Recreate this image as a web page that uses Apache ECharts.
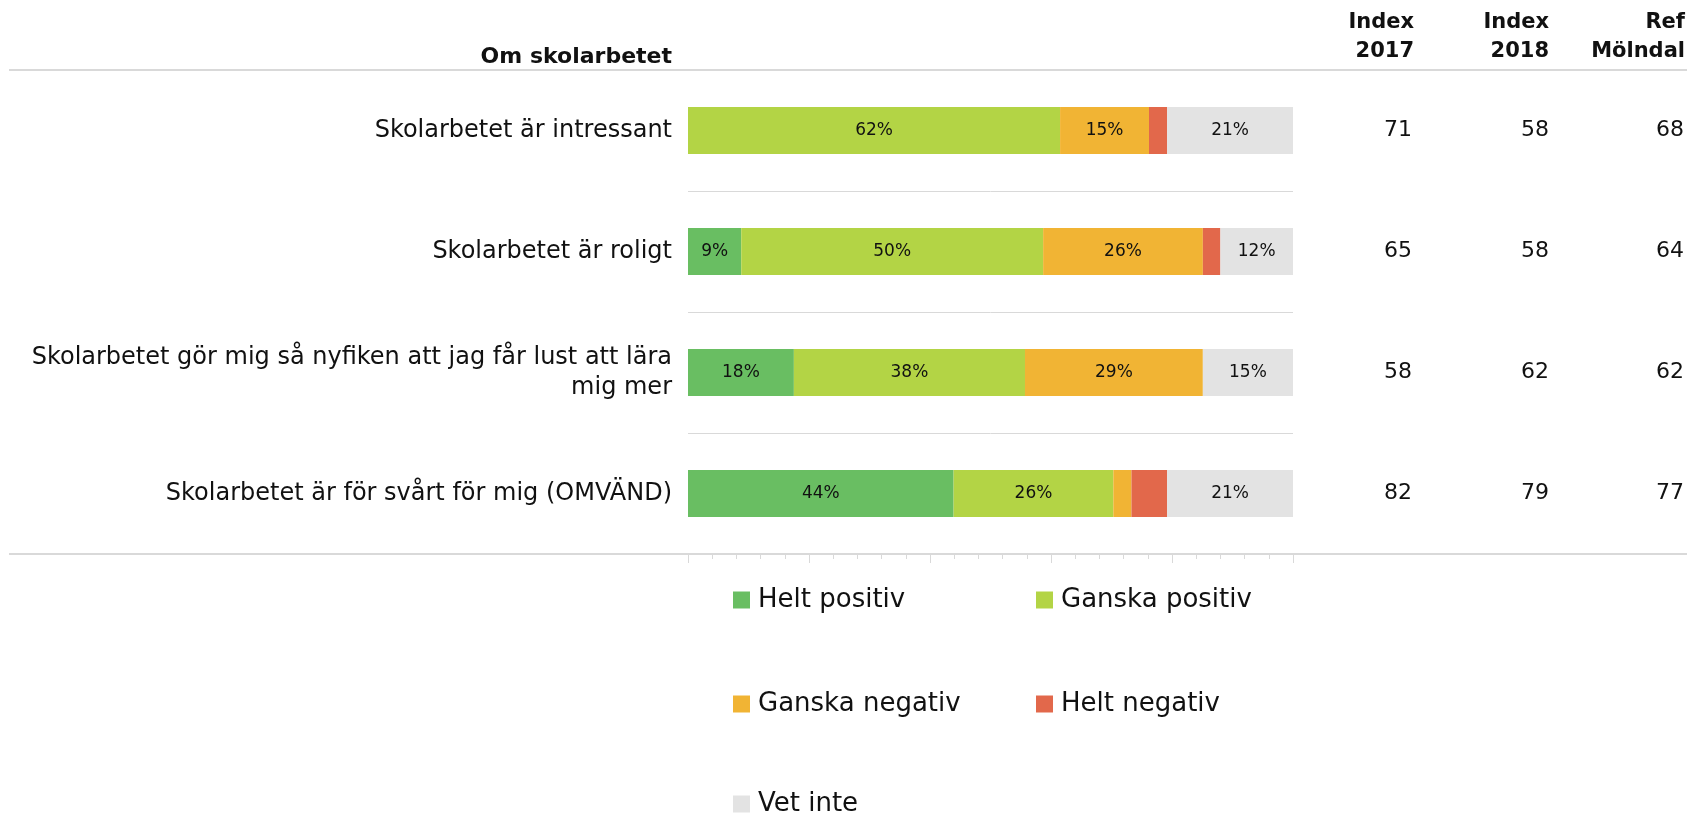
<!DOCTYPE html>
<html>
<head>
<meta charset="utf-8">
<script src="https://cdn.jsdelivr.net/npm/echarts@6/dist/echarts.min.js"></script>
<style>
  html, body { margin: 0; padding: 0; background: #ffffff; }
  #main { width: 1687px; height: 816px; }
</style>
</head>
<body>
<div id="main"></div>
<script>
// Om skolarbetet - staplade andelar per påstående

var categories = [
    'Skolarbetet är intressant',
    'Skolarbetet är roligt',
    'Skolarbetet gör mig så nyfiken att jag får lust att lära\nmig mer',
    'Skolarbetet är för svårt för mig (OMVÄND)'
];
var seriesNames = ['Helt positiv', 'Ganska positiv', 'Ganska negativ', 'Helt negativ', 'Vet inte'];
var heltPositiv   = [0, 8.8, 17.5, 43.9];
var ganskaPositiv = [61.5, 49.9, 38.2, 26.4];
var ganskaNegativ = [14.7, 26.4, 29.4, 3.0];
var heltNegativ   = [3.0, 2.9, 0, 5.9];
var vetInte       = [20.8, 12.0, 14.9, 20.8];

var index2017  = ['71', '65', '58', '82'];
var index2018  = ['58', '58', '62', '79'];
var refMolndal = ['68', '64', '62', '77'];

var colors = ['#69be62', '#b3d445', '#f1b434', '#e2684b', '#e3e3e3'];

var FONT = 'DejaVu Sans';
var GRID_LEFT = 688, GRID_RIGHT = 394, GRID_TOP = 70, GRID_BOTTOM = 262;
var W = 1687, H = 816;

var chart = echarts.init(document.getElementById('main'));

function makeBar(name, data, color) {
    return {
        name: name,
        type: 'bar',
        stack: 'total',
        barWidth: 47,
        data: data,
        itemStyle: { color: color },
        label: {
            show: true,
            position: 'inside',
            color: '#111111',
            fontFamily: FONT,
            fontSize: 17,
            formatter: function (p) {
                // små segment saknar etikett i originalet
                return p.value >= 8 ? Math.round(p.value) + '%' : '';
            }
        }
    };
}

function indexAxis(data, offset) {
    return {
        type: 'category',
        data: data,
        inverse: true,
        position: 'right',
        offset: offset,
        axisLine: { show: false },
        axisTick: { show: false },
        splitLine: { show: false },
        axisLabel: {
            align: 'right',
            margin: 0,
            color: '#111111',
            fontFamily: FONT,
            fontSize: 22
        }
    };
}

// legend: två kolumner, tre rader
var legendPos = [[733, 600], [1036, 600], [733, 704], [1036, 704], [733, 804]];
var legends = seriesNames.map(function (name, i) {
    return {
        left: legendPos[i][0],
        top: legendPos[i][1] - 13,
        padding: 0,
        itemWidth: 17,
        itemHeight: 17,
        icon: 'rect',
        data: [name],
        textStyle: { fontFamily: FONT, fontSize: 26, color: '#111111', padding: [0, 0, 0, 3] }
    };
});

var rightEdge = W - GRID_RIGHT;
function headText(x, y, text, size) {
    return {
        type: 'text',
        x: x,
        y: y,
        style: {
            text: text,
            fontFamily: FONT,
            fontWeight: 'bold',
            fontSize: size,
            lineHeight: 29,
            fill: '#111111',
            align: 'right',
            verticalAlign: 'middle'
        }
    };
}

var option = {
    animation: false,
    color: colors,
    grid: {
        left: GRID_LEFT,
        right: GRID_RIGHT,
        top: GRID_TOP,
        bottom: GRID_BOTTOM,
        containLabel: false
    },
    xAxis: {
        type: 'value',
        min: 0,
        max: 100,
        interval: 20,
        axisLine: { show: true, lineStyle: { color: '#d9d9d9', width: 2 } },
        axisTick: { show: true, inside: false, length: 9, lineStyle: { color: '#d9d9d9' } },
        minorTick: { show: true, splitNumber: 5, length: 5, lineStyle: { color: '#d9d9d9' } },
        axisLabel: { show: false },
        splitLine: { show: false }
    },
    yAxis: [
        {
            type: 'category',
            data: categories,
            inverse: true,
            axisLine: { show: false },
            axisTick: { show: false },
            splitLine: { show: true, lineStyle: { color: '#d9d9d9', width: 1 } },
            axisLabel: {
                margin: 16,
                align: 'right',
                color: '#111111',
                fontFamily: FONT,
                fontSize: 24,
                lineHeight: 30
            }
        },
        indexAxis(index2017, 1412 - rightEdge),
        indexAxis(index2018, 1549 - rightEdge),
        indexAxis(refMolndal, 1684 - rightEdge)
    ],
    legend: legends,
    graphic: [
        // tabellens ramlinjer
        { type: 'line', shape: { x1: 9, y1: GRID_TOP, x2: W, y2: GRID_TOP }, style: { stroke: '#d9d9d9', lineWidth: 2 }, z: 0 },
        { type: 'line', shape: { x1: 9, y1: H - GRID_BOTTOM, x2: W, y2: H - GRID_BOTTOM }, style: { stroke: '#d9d9d9', lineWidth: 2 }, z: 0 },
        // rubriker
        headText(672, 57, 'Om skolarbetet', 22),
        headText(1414, 37, 'Index\n2017', 21),
        headText(1549, 37, 'Index\n2018', 21),
        headText(1685, 37, 'Ref\nMölndal', 21)
    ],
    series: [
        makeBar(seriesNames[0], heltPositiv, colors[0]),
        makeBar(seriesNames[1], ganskaPositiv, colors[1]),
        makeBar(seriesNames[2], ganskaNegativ, colors[2]),
        makeBar(seriesNames[3], heltNegativ, colors[3]),
        makeBar(seriesNames[4], vetInte, colors[4])
    ]
};

chart.setOption(option);
</script>
</body>
</html>
